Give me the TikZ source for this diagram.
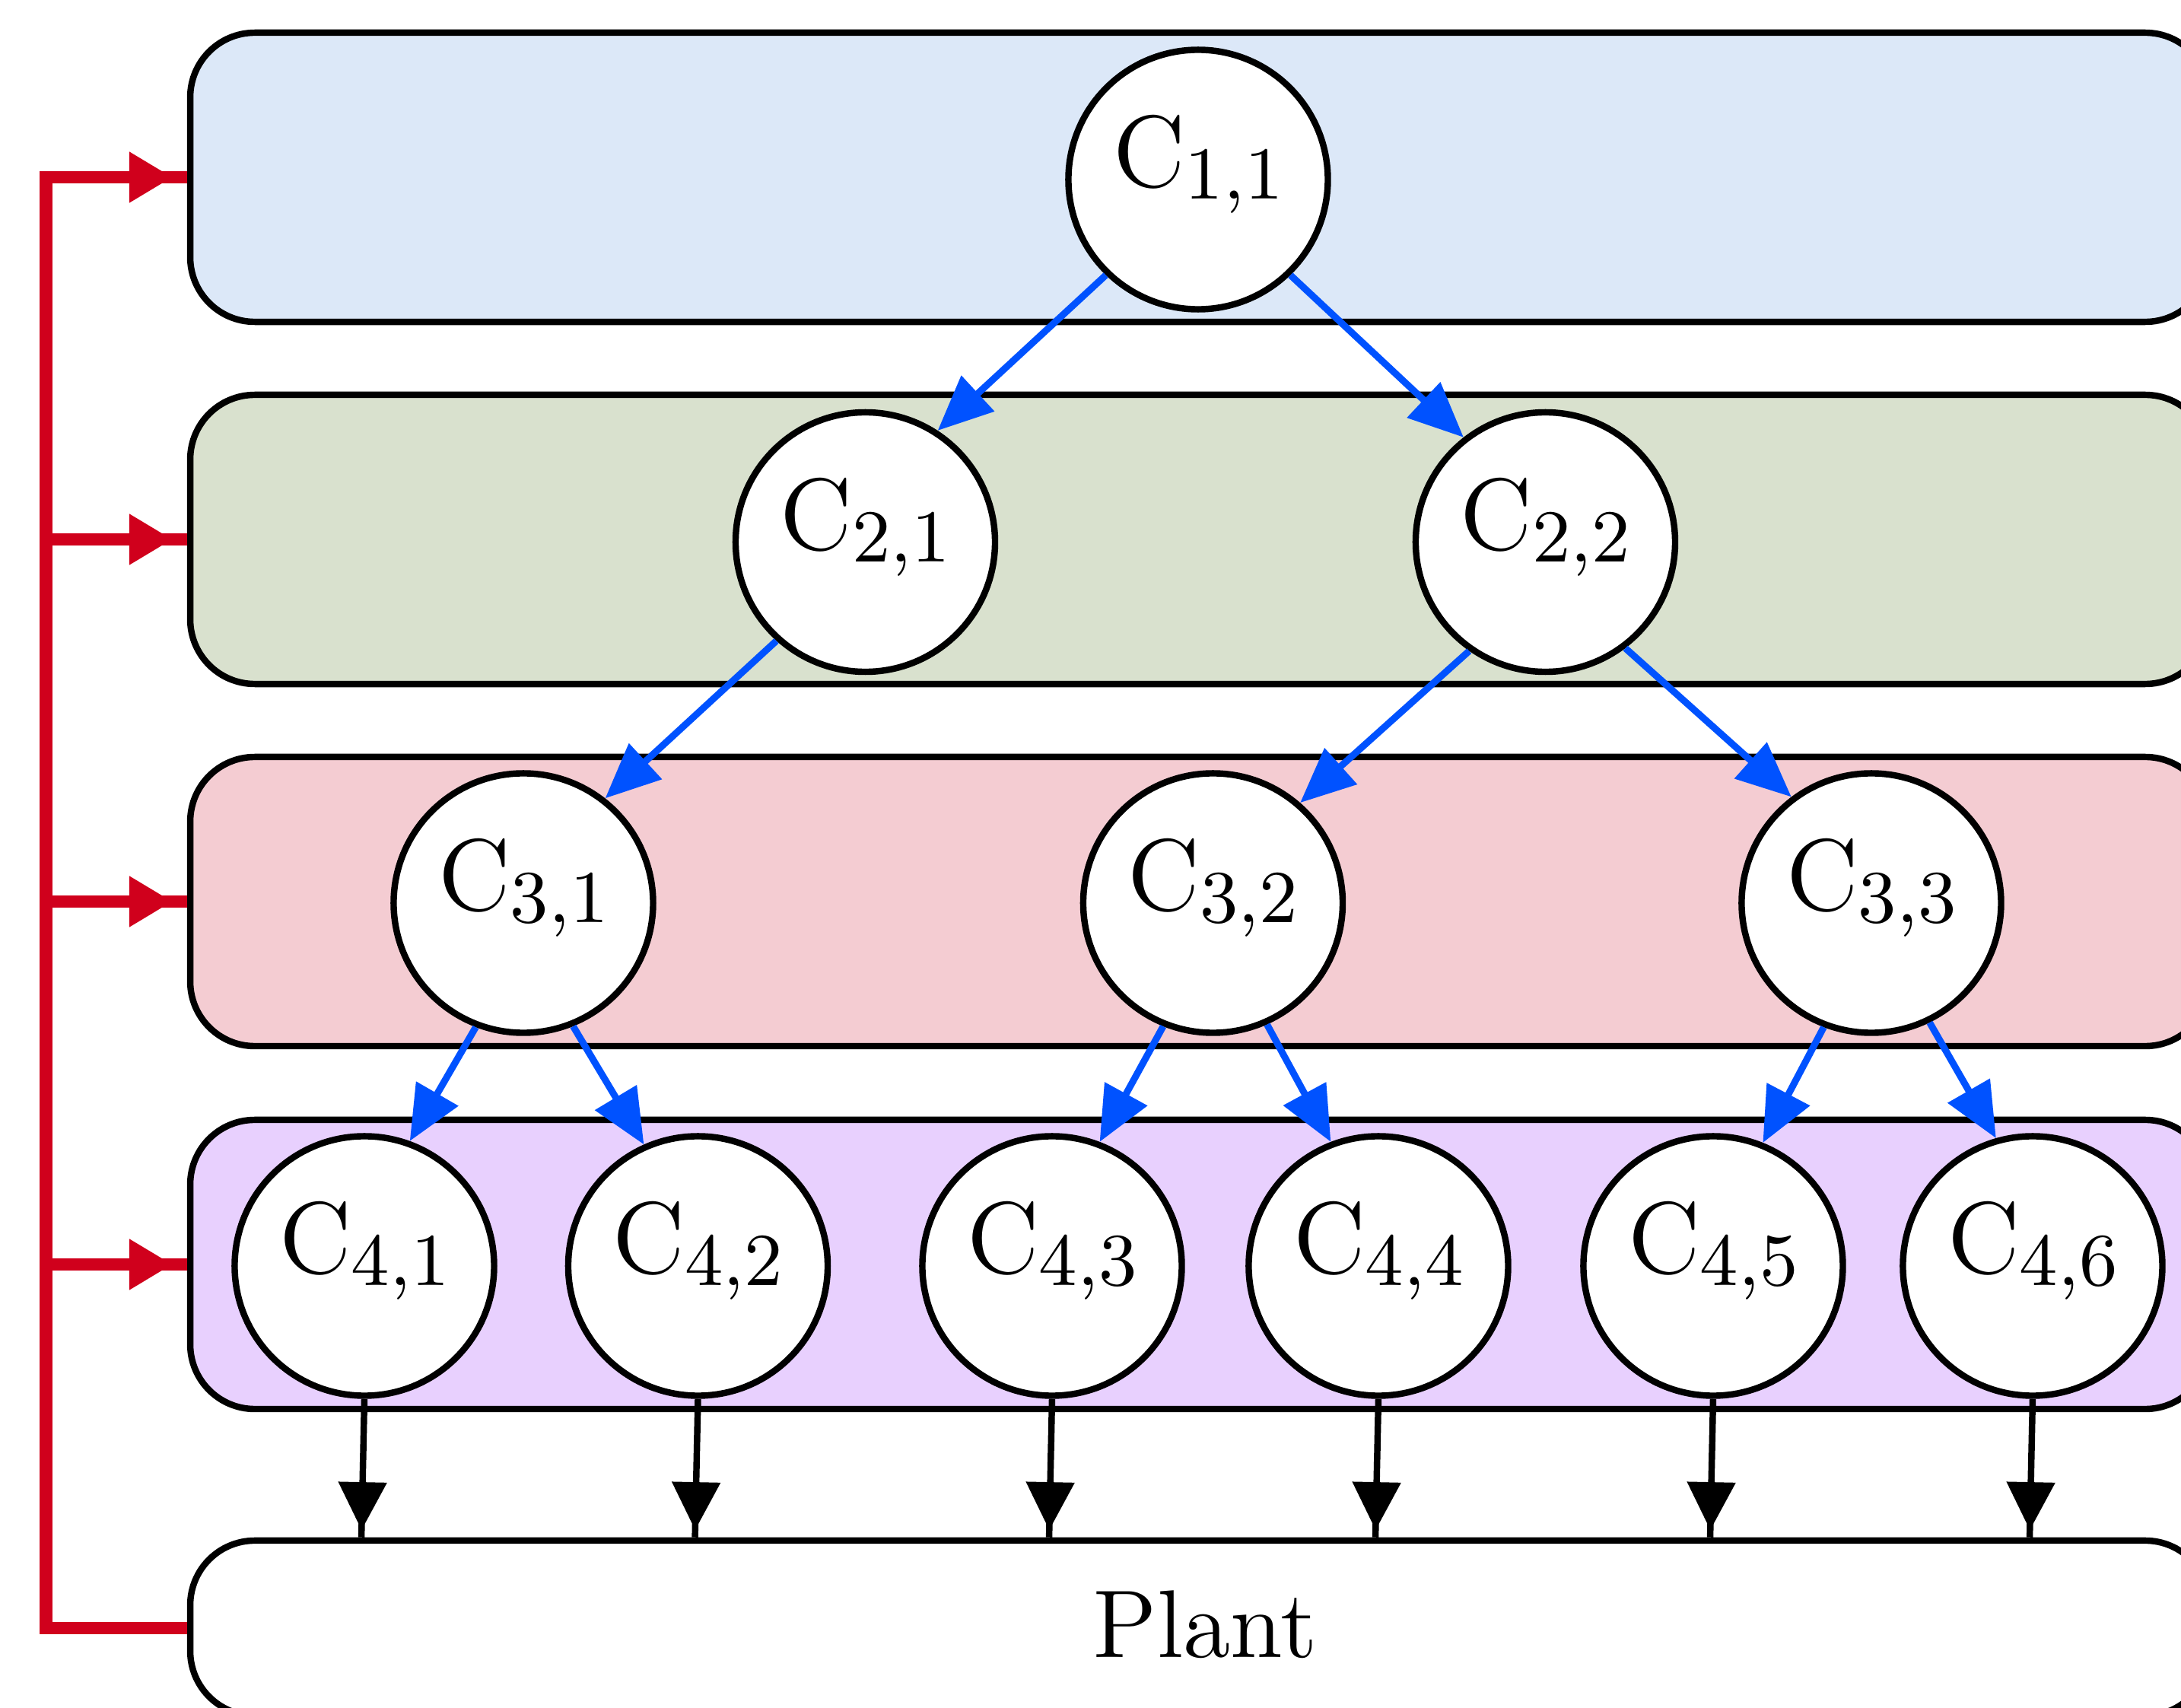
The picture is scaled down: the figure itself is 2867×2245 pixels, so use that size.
\documentclass[tikz,border=0pt]{standalone}
\usetikzlibrary{arrows.meta,decorations.markings}

\definecolor{layerA}{RGB}{220,232,248}
\definecolor{layerB}{RGB}{217,225,206}
\definecolor{layerC}{RGB}{244,204,210}
\definecolor{layerD}{RGB}{232,208,254}
\definecolor{flowblue}{RGB}{0,82,255}
\definecolor{busred}{RGB}{208,0,28}

% controller label C_{i,j}
\newcommand\ctrl[2]{C\raisebox{-1.5pt}{\fontsize{9.3}{10}\selectfont#1,#2}}

\begin{document}
\begin{tikzpicture}[x=0.033333mm,y=-0.033333mm,
  layer/.style={draw, line width=0.8pt, rounded corners=2.83mm,
    minimum width=88.5mm, minimum height=12.67mm, inner sep=0pt},
  ctl/.style={circle, draw, fill=white, line width=0.8pt,
    minimum size=11.37mm, inner sep=0pt, text height=2.95mm, text depth=2.3mm,
    font=\fontsize{12.7}{14}\selectfont},
  flow/.style={draw=flowblue, line width=0.85pt,
    -{Triangle[length=2.4mm,width=2.07mm]}},
  tipat/.style 2 args={postaction={decorate,
    decoration={markings, mark=at position #1 with {\arrow{#2}}}}},
  feed/.style={draw=black, line width=0.8pt,
    tipat={-0.32mm}{Triangle[length=2.1mm,width=2.07mm]}},
  busline/.style={draw=busred, color=busred, line width=1.6pt},
  busarrow/.style={tipat={-0.63mm}{Triangle[length=1.9mm,width=2.1mm]}}
]
\useasboundingbox (0,0) rectangle (2867,2245);
\clip (0,0) rectangle (2867,2245);

% hierarchy layers and the plant
\node[layer, fill=layerA] (L1) at (1577.5,233) {};
\node[layer, fill=layerB] (L2) at (1577.5,709) {};
\node[layer, fill=layerC] (L3) at (1577.5,1185) {};
\node[layer, fill=layerD] (L4) at (1577.5,1662) {};
\node[layer, fill=white, minimum height=7.67mm] (plant) at (1577.5,2140) {};
\node[font=\fontsize{12}{14}\selectfont] (plantlabel) at (1584,2135) {Plant};

% controllers
\node[ctl] (c11) at (1575,236) {\ctrl11};
\node[ctl] (c21) at (1137.5,712.5) {\ctrl21};
\node[ctl] (c22) at (2031.5,712.5) {\ctrl22};
\node[ctl] (c31) at (688,1187) {\ctrl31};
\node[ctl] (c32) at (1594.5,1187) {\ctrl32};
\node[ctl] (c33) at (2460,1187) {\ctrl33};
\node[ctl] (c41) at (479,1664) {\ctrl41};
\node[ctl] (c42) at (917.5,1664) {\ctrl42};
\node[ctl] (c43) at (1383,1664) {\ctrl43};
\node[ctl] (c44) at (1812,1664) {\ctrl44};
\node[ctl] (c45) at (2252,1664) {\ctrl45};
\node[ctl] (c46) at (2672,1664) {\ctrl46};

% coordination links between levels
\draw[flow] (c11.226) -- (c21.57);
\draw[flow] (c11.314) -- (c22.128);
\draw[flow] (c21.228) -- (c31.52);
\draw[flow] (c22.235) -- (c32.49);
\draw[flow] (c22.307) -- (c33.127);
\draw[flow] (c31.249) -- (c41.70);
\draw[flow] (c31.292) -- (c42.114);
\draw[flow] (c32.248) -- (c43.69);
\draw[flow] (c32.294) -- (c44.111);
\draw[flow] (c33.249) -- (c45.68);
\draw[flow] (c33.296) -- (c46.106);

% local controllers act on the plant
\foreach \c in {c41,c42,c43,c44,c45,c46}
  \draw[feed] (\c.south) -- ([xshift=-0.13mm]\c.south |- plant.north);

% measurement feedback bus
\coordinate (bus) at (60.5,0);
\draw[busline] (L1.west) -- (L1.west -| bus) -- (plant.west -| bus) -- (plant.west);
\foreach \l in {L1,L2,L3,L4}
  \draw[busline, busarrow] (\l.west -| bus) -- (\l.west);
\end{tikzpicture}
\end{document}
